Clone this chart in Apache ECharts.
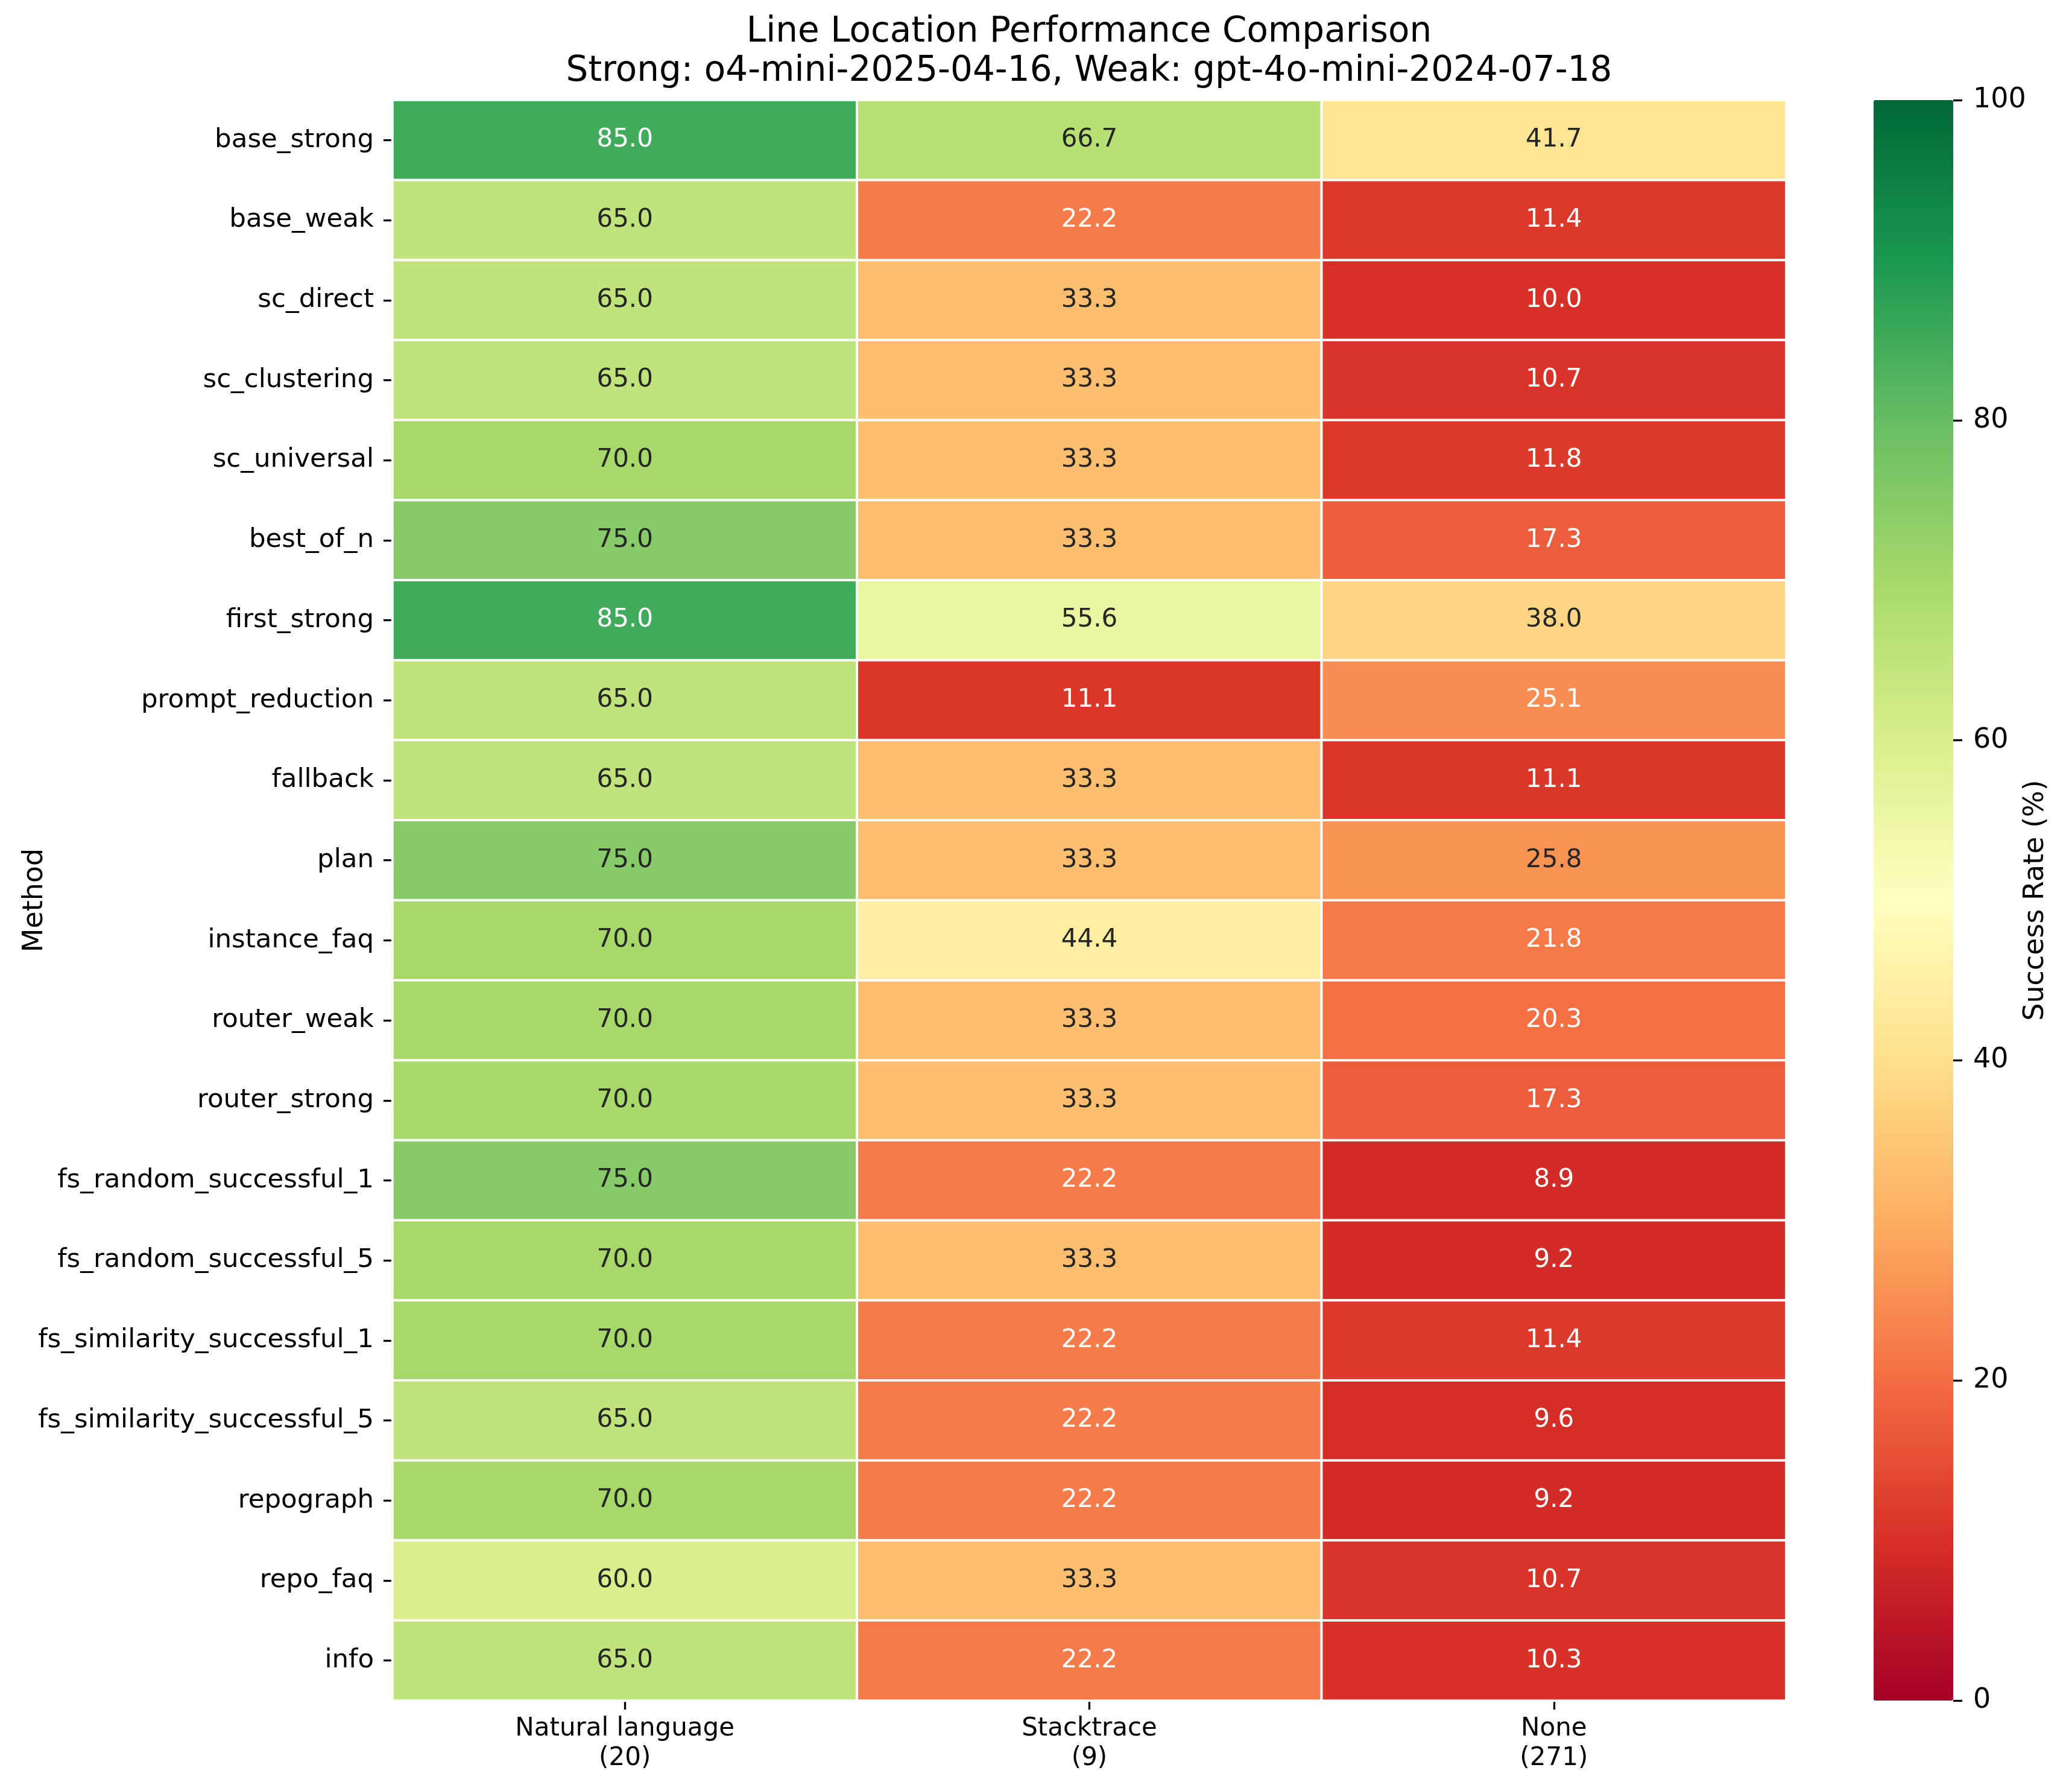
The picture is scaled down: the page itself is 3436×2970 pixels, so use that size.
<!DOCTYPE html>
<html>
<head>
<meta charset="utf-8">
<script src="https://cdn.jsdelivr.net/npm/echarts@6/dist/echarts.min.js"></script>
<style>
html,body{margin:0;padding:0;background:#fff;}
#chart{width:3436px;height:2970px;}
</style>
</head>
<body>
<div id="chart"></div>
<script>
// ---- data ----
var methods = ["base_strong","base_weak","sc_direct","sc_clustering","sc_universal","best_of_n","first_strong","prompt_reduction","fallback","plan","instance_faq","router_weak","router_strong","fs_random_successful_1","fs_random_successful_5","fs_similarity_successful_1","fs_similarity_successful_5","repograph","repo_faq","info"];
var columnNames = ["Natural language","Stacktrace","None"];
var columnCounts = [20, 9, 271];
var naturalLanguage = [85.0,65.0,65.0,65.0,70.0,75.0,85.0,65.0,65.0,75.0,70.0,70.0,70.0,75.0,70.0,70.0,65.0,70.0,60.0,65.0];
var stacktrace = [66.7,22.2,33.3,33.3,33.3,33.3,55.6,11.1,33.3,33.3,44.4,33.3,33.3,22.2,33.3,22.2,22.2,22.2,33.3,22.2];
var noneCol = [41.7,11.4,10.0,10.7,11.8,17.3,38.0,25.1,11.1,25.8,21.8,20.3,17.3,8.9,9.2,11.4,9.6,9.2,10.7,10.3];
var colorbarTicks = [0,20,40,60,80,100];

var rdYlGn = ["#a50026","#d73027","#f46d43","#fdae61","#fee08b","#ffffbf","#d9ef8b","#a6d96a","#66bd63","#1a9850","#006837"];

function hexToRgb(h){return [parseInt(h.substr(1,2),16),parseInt(h.substr(3,2),16),parseInt(h.substr(5,2),16)];}
function cmap(v){
  var t = Math.max(0, Math.min(1, v/100)) * (rdYlGn.length-1);
  var i = Math.min(Math.floor(t), rdYlGn.length-2);
  var f = t - i;
  var a = hexToRgb(rdYlGn[i]), b = hexToRgb(rdYlGn[i+1]);
  return [a[0]+(b[0]-a[0])*f, a[1]+(b[1]-a[1])*f, a[2]+(b[2]-a[2])*f];
}
function lum(rgb){
  var c = rgb.map(function(x){x/=255;return x<=0.03928? x/12.92 : Math.pow((x+0.055)/1.055,2.4);});
  return 0.2126*c[0]+0.7152*c[1]+0.0722*c[2];
}

var columns = [naturalLanguage, stacktrace, noneCol];
var cells = [];
columns.forEach(function(col, xi){
  col.forEach(function(v, yi){
    cells.push({value:[xi, yi, v], label:{color: lum(cmap(v)) > 0.408 ? "#262626" : "#ffffff"}});
  });
});
var xLabels = columnNames.map(function(n,i){return n + "\n(" + columnCounts[i] + ")";});

var FONT = "DejaVu Sans";
var chart = echarts.init(document.getElementById("chart"), null, {renderer:"canvas"});
chart.setOption({
  backgroundColor: "#ffffff",
  animation: false,
  textStyle: {fontFamily: FONT},
  title: {
    text: "Line Location Performance Comparison\nStrong: o4-mini-2025-04-16, Weak: gpt-4o-mini-2024-07-18",
    left: 1806, top: 21, padding: 0, textAlign: "center",
    textStyle: {fontFamily: FONT, fontSize: 58, fontWeight: "normal", color: "#000", lineHeight: 65}
  },
  grid: [
    {left: 651, top: 166, width: 2311, height: 2654, outerBoundsMode: "none", containLabel: false},
    {left: 3107, top: 166, width: 132, height: 2654, outerBoundsMode: "none", containLabel: false}
  ],
  xAxis: [
    {type: "category", gridIndex: 0, data: xLabels, position: "bottom",
     axisLine: {show: false},
     axisTick: {show: true, alignWithLabel: true, length: 15, lineStyle: {color: "#000", width: 3.3}},
     axisLabel: {fontFamily: FONT, fontSize: 42, lineHeight: 49, color: "#000", margin: 23},
     splitLine: {show: false}, splitArea: {show: false}},
    {type: "category", gridIndex: 1, data: [""], show: false}
  ],
  yAxis: [
    {type: "category", gridIndex: 0, data: methods, inverse: true,
     axisLine: {show: false},
     axisTick: {show: true, alignWithLabel: true, length: 15, lineStyle: {color: "#000", width: 3.3}},
     axisLabel: {fontFamily: FONT, fontSize: 43.5, color: "#000", margin: 31},
     name: "Method", nameLocation: "middle", nameRotate: 90, nameGap: 570, nameMoveOverlap: false,
     nameTextStyle: {fontFamily: FONT, fontSize: 46, color: "#000"},
     splitLine: {show: false}, splitArea: {show: false}},
    {type: "value", gridIndex: 1, min: 0, max: 100, interval: 20, position: "right",
     axisLine: {show: false},
     axisTick: {show: true, length: 15, lineStyle: {color: "#000", width: 3.3}},
     axisLabel: {fontFamily: FONT, fontSize: 46, color: "#000", margin: 33,
                 customValues: colorbarTicks},
     name: "Success Rate (%)", nameLocation: "middle", nameRotate: 90, nameGap: 114, nameMoveOverlap: false,
     nameTextStyle: {fontFamily: FONT, fontSize: 46, color: "#000"},
     splitLine: {show: false}}
  ],
  visualMap: {
    type: "continuous", min: 0, max: 100, seriesIndex: 0, calculable: false,
    orient: "vertical", left: 3107, top: 166, itemWidth: 132, itemHeight: 2654,
    padding: 0, text: null, showLabel: false, hoverLink: false,
    inRange: {color: rdYlGn}
  },
  series: [{
    type: "heatmap", xAxisIndex: 0, yAxisIndex: 0, data: cells,
    label: {show: true, fontFamily: FONT, fontSize: 42,
            formatter: function(p){return p.value[2].toFixed(1);}},
    itemStyle: {borderColor: "#ffffff", borderWidth: 4},
    emphasis: {disabled: true}
  }]
});
</script>
</body>
</html>
